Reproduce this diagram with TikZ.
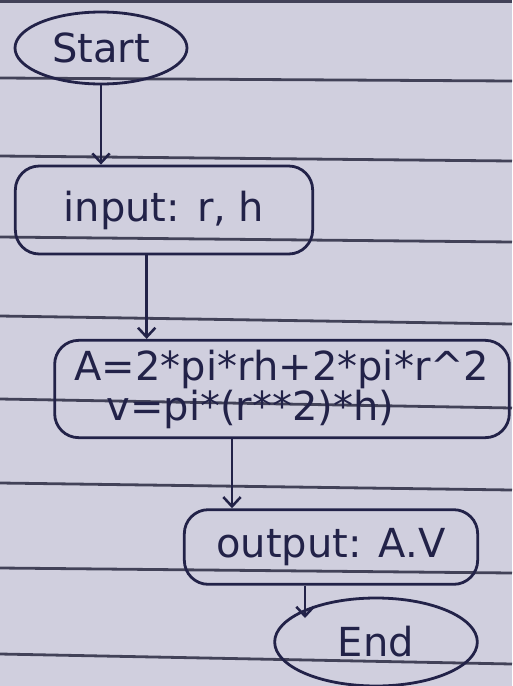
\documentclass[tikz,border=0pt]{standalone}
\usepackage{fontspec}
\setmainfont{DejaVu Sans}
\usetikzlibrary{shapes.geometric,arrows.meta}
\definecolor{ink}{RGB}{34,34,72}
\definecolor{paper}{RGB}{208,207,222}
\definecolor{ruling}{RGB}{66,66,88}
\tikzset{every picture/.style={line width=0.75pt}}

\begin{document}
\begin{tikzpicture}[x=0.75pt,y=0.75pt,yscale=-1,xscale=1,
  term/.style={ellipse,draw=ink,line width=2.1pt,text=ink,inner sep=2pt,font=\fontsize{30}{32}\selectfont},
  io/.style={rectangle,rounded corners=18pt,draw=ink,line width=2.1pt,text=ink,inner sep=2pt,font=\fontsize{30}{32}\selectfont},
  flow/.style={draw=ink,line width=1.9pt,-{Straight Barb[length=7pt,width=13pt]}}]
%set diagram size to the page
\useasboundingbox (0,0) rectangle (512,686);
\fill[paper] (0,0) rectangle (512,686);

%Ruled paper lines
\draw[ruling,line width=2.6pt] (0,1.5) -- (512,1.5);
\foreach \ya/\yb in {78/81,156/161,237/242,316/324,399/408,483/490,568/573,654/664}
  \draw[ruling,line width=2.1pt] (0,\ya) -- (512,\yb);

% Terminal and box nodes
\node[term,minimum width=129pt,minimum height=54pt] (start) at (101,48) {Start};
\node[io,minimum width=223pt,minimum height=66pt] (input) at (164,210) {input: r, h};
\node[io,minimum width=341pt,minimum height=73pt,align=left,font=\fontsize{30}{27}\selectfont] (calc) at (282,389)
  {A=2*pi*rh+2*pi*r\textasciicircum2\\\hspace*{24pt}v=pi*(r**2)*h)};
\node[io,minimum width=220pt,minimum height=56pt] (output) at (331,547) {output: A.V};
\node[term,minimum width=152pt,minimum height=66pt] (end) at (376,642) {End};

% Connectors
\draw[flow] (start.south) -- (start.south |- input.north);
\draw[flow] ([xshift=-13pt]input.south) -- ([xshift=-13pt]input.south |- calc.north);
\draw[flow] ([xshift=-37.5pt]calc.south) -- ([xshift=-37.5pt]calc.south |- output.north);
\draw[flow] ([xshift=-19.5pt]output.south) -- ([xshift=-19.5pt,yshift=-18pt]output.south |- end.west);

\end{tikzpicture}
\end{document}
